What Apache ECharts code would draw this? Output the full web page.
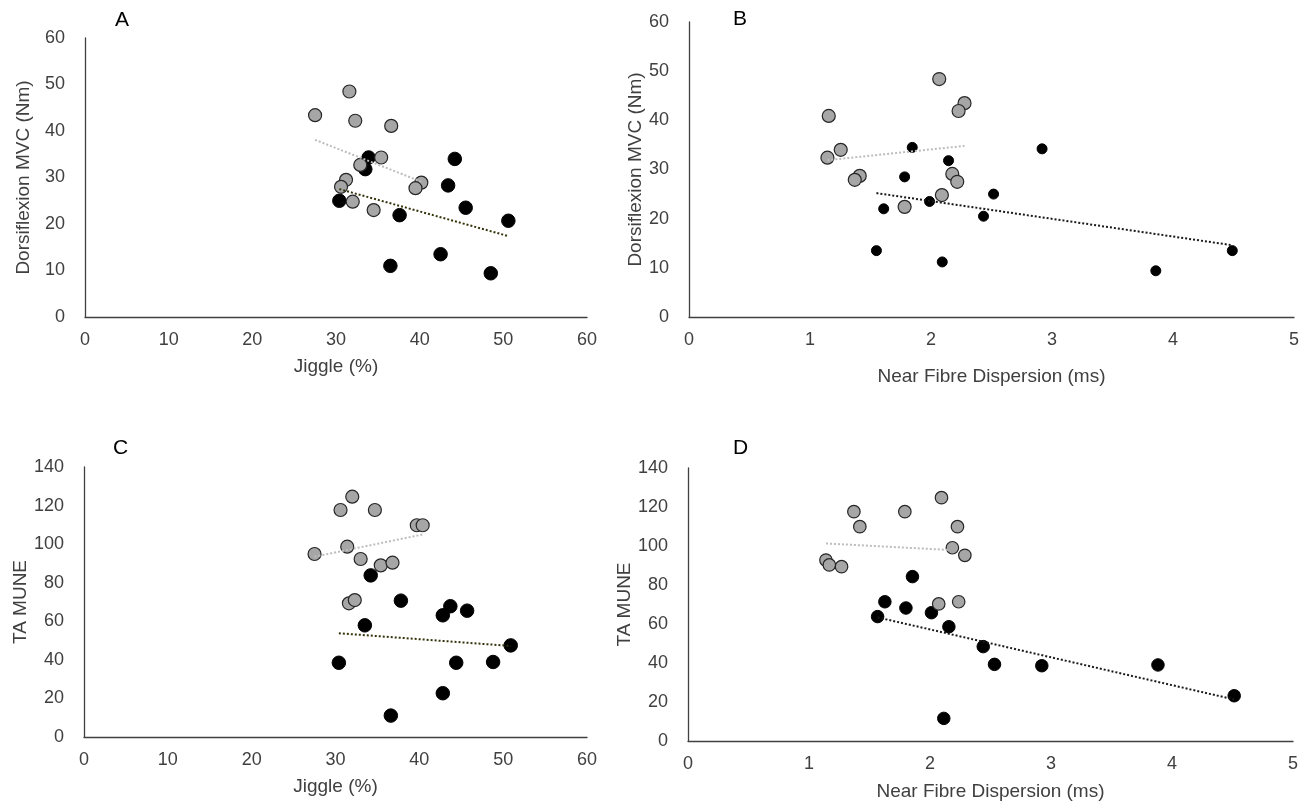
<!DOCTYPE html>
<html>
<head>
<meta charset="utf-8">
<script src="https://cdn.jsdelivr.net/npm/echarts@6/dist/echarts.min.js"></script>
<style>
html,body{margin:0;padding:0;background:#fff;}
#chart{width:1302px;height:804px;}
</style>
</head>
<body>
<div id="chart"></div>
<script>
// ---------- Data ----------
// Panel A: Jiggle (%) vs Dorsiflexion MVC (Nm)
const A_gray = [[31.6,48.5],[27.5,43.4],[32.3,42.2],[36.6,41.1],[35.4,34.3],[32.9,32.7],[31.2,29.5],[30.6,28.0],[40.2,28.9],[39.5,27.7],[32.0,24.8],[34.5,23.0]];
const A_black = [[33.9,34.3],[33.5,31.8],[44.2,34.0],[43.4,28.3],[30.4,25.0],[37.6,21.9],[45.5,23.5],[50.6,20.7],[42.5,13.5],[36.5,11.0],[48.5,9.4]];
const A_grayTrend = [[27.5,38.1],[40.2,29.1]];
const A_blackTrend = [[30.4,27.5],[50.6,17.4]];

// Panel B: Near Fibre Dispersion (ms) vs Dorsiflexion MVC (Nm)
const B_gray = [[1.155,40.9],[2.277,43.5],[2.228,41.9],[1.254,34.0],[1.144,32.4],[1.411,28.7],[1.370,27.9],[2.176,29.1],[2.217,27.5],[2.09,24.8],[1.782,22.4],[2.068,48.4]];
const B_black = [[1.845,34.5],[2.918,34.2],[2.145,31.8],[1.782,28.5],[2.517,25.0],[1.988,23.5],[1.609,22.0],[2.434,20.5],[1.549,13.5],[2.093,11.2],[3.858,9.4],[4.49,13.5]];
const B_grayTrend = [[1.144,31.9],[2.277,34.8]];
const B_blackTrend = [[1.549,25.2],[4.49,14.6]];

// Panel C: Jiggle (%) vs TA MUNE
const C_gray = [[32.0,124.6],[30.6,117.7],[34.7,117.7],[39.7,109.8],[40.4,109.8],[31.4,98.7],[27.5,94.9],[33.0,92.3],[35.4,89.0],[36.8,90.4],[31.6,69.3],[32.3,71.0]];
const C_black = [[34.2,83.8],[37.8,70.7],[43.7,67.8],[42.8,63.1],[45.7,65.5],[33.5,57.9],[50.9,47.5],[30.4,38.5],[44.4,38.5],[48.8,38.9],[42.8,22.7],[36.6,11.1]];
const C_grayTrend = [[27.5,93.5],[40.4,105.0]];
const C_blackTrend = [[30.4,53.8],[50.9,47.2]];

// Panel D: Near Fibre Dispersion (ms) vs TA MUNE
const D_gray = [[2.095,124.8],[1.371,117.6],[1.792,117.6],[1.42,109.9],[2.227,109.9],[2.185,99.1],[2.288,95.2],[1.14,92.8],[1.168,90.3],[1.269,89.4],[2.072,70.3],[2.237,71.4]];
const D_black = [[1.855,84.3],[1.627,71.4],[1.801,68.2],[2.012,65.8],[1.567,63.8],[2.156,58.6],[2.44,48.4],[2.533,39.3],[2.924,38.6],[2.114,11.6],[3.884,39.0],[4.514,23.2]];
const D_grayTrend = [[1.14,101.3],[2.15,98.0]];
const D_blackTrend = [[1.567,63.4],[4.514,21.3]];

// Axis titles and panel letters
const panelLetters = ['A','B','C','D'];
const xTitles = ['Jiggle (%)','Near Fibre Dispersion (ms)','Jiggle (%)','Near Fibre Dispersion (ms)'];
const yTitles = ['Dorsiflexion MVC (Nm)','Dorsiflexion MVC (Nm)','TA MUNE','TA MUNE'];
const xRanges = [[0,60,10],[0,5,1],[0,60,10],[0,5,1]];
const yRanges = [[0,60,10],[0,60,10],[0,140,20],[0,140,20]];

// ---------- Styling / layout ----------
const FONT = 'Arial, "Liberation Sans", sans-serif';
const AXIS_COLOR = '#404040';
const LABEL_COLOR = '#404040';
const grids = [
  {left:85, top:38, width:502, height:279},
  {left:689, top:22, width:606, height:295},
  {left:84, top:467, width:503, height:270},
  {left:688, top:468, width:605, height:273}
];
const xNameGaps = [40, 50, 40, 41];
const yNameGaps = [52, 44, 52, 45];
const letterPos = [[122,22],[740,21],[120,450],[740,450]];

function xAxisOf(i){
  return {
    type:'value', gridIndex:i, min:xRanges[i][0], max:xRanges[i][1], interval:xRanges[i][2],
    name:xTitles[i], nameLocation:'middle', nameGap:xNameGaps[i],
    nameTextStyle:{fontSize:19, color:LABEL_COLOR, fontFamily:FONT},
    axisLine:{show:true, onZero:false, lineStyle:{color:AXIS_COLOR, width:1.3}},
    axisTick:{show:false}, splitLine:{show:false},
    axisLabel:{fontSize:18, color:LABEL_COLOR, fontFamily:FONT, margin:14}
  };
}
function yAxisOf(i){
  return {
    type:'value', gridIndex:i, min:yRanges[i][0], max:yRanges[i][1], interval:yRanges[i][2],
    name:yTitles[i], nameLocation:'middle', nameGap:yNameGaps[i], nameRotate:90,
    nameTextStyle:{fontSize:19, color:LABEL_COLOR, fontFamily:FONT},
    axisLine:{show:true, onZero:false, lineStyle:{color:AXIS_COLOR, width:1.3}},
    axisTick:{show:false}, splitLine:{show:false},
    axisLabel:{fontSize:18, color:LABEL_COLOR, fontFamily:FONT, margin:20}
  };
}

const panels = [
  {gray:A_gray, black:A_black, gt:A_grayTrend, bt:A_blackTrend, gs:13, bs:13.5, btColor:'#33330a'},
  {gray:B_gray, black:B_black, gt:B_grayTrend, bt:B_blackTrend, gs:13, bs:10, btColor:'#1a1a1a'},
  {gray:C_gray, black:C_black, gt:C_grayTrend, bt:C_blackTrend, gs:13, bs:13.5, btColor:'#33330a'},
  {gray:D_gray, black:D_black, gt:D_grayTrend, bt:D_blackTrend, gs:12.5, bs:12.5, btColor:'#1a1a1a'}
];

const series = [];
panels.forEach((p,i)=>{
  series.push({type:'scatter', xAxisIndex:i, yAxisIndex:i, data:p.black, symbolSize:p.bs, z:2,
    itemStyle:{color:'#000000', borderColor:'#000000', borderWidth:1, opacity:1}});
  series.push({type:'scatter', xAxisIndex:i, yAxisIndex:i, data:p.gray, symbolSize:p.gs, z:3,
    itemStyle:{color:'#a6a6a6', borderColor:'#262626', borderWidth:1.2, opacity:1}});
  series.push({type:'line', xAxisIndex:i, yAxisIndex:i, data:p.gt, symbol:'none', z:4, silent:true,
    lineStyle:{color:'#bdbdbd', width:2, type:[2,2]}});
  series.push({type:'line', xAxisIndex:i, yAxisIndex:i, data:p.bt, symbol:'none', z:4, silent:true,
    lineStyle:{color:p.btColor, width:2, type:[2,2]}});
});

const chart = echarts.init(document.getElementById('chart'), null, {renderer:'canvas'});
chart.setOption({
  animation:false,
  backgroundColor:'#ffffff',
  grid: grids.map(g=>Object.assign({containLabel:false}, g)),
  xAxis: [0,1,2,3].map(xAxisOf),
  yAxis: [0,1,2,3].map(yAxisOf),
  graphic: panelLetters.map((t,i)=>({
    type:'text', left:letterPos[i][0]-7, top:letterPos[i][1]-12,
    style:{text:t, fontSize:21, fill:'#000', fontFamily:FONT}
  })),
  series: series
});
</script>
</body>
</html>
